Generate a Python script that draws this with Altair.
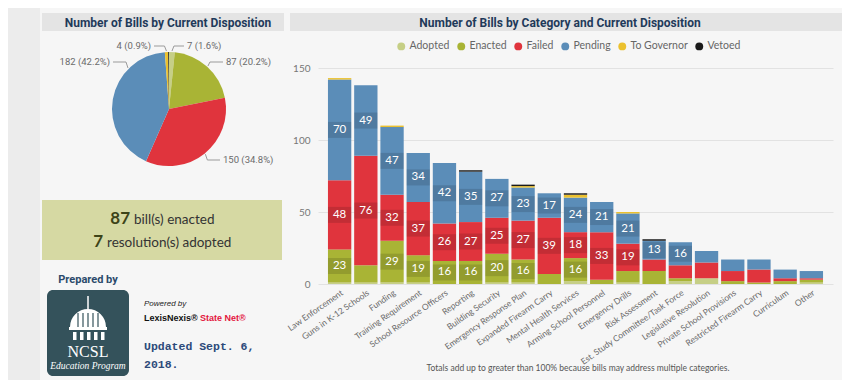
import math
import altair as alt
import pandas as pd

# ---------------- data ----------------
statuses = ["Adopted", "Enacted", "Failed", "Pending", "To Governor", "Vetoed"]
status_colors = ["#c6cf86", "#a9b435", "#e0343d", "#5b8db8", "#ebc12f", "#1a1a1a"]

pie_counts = [7, 87, 150, 182, 4, 1]

categories = [
    "Law Enforcement", "Guns in K-12 Schools", "Funding", "Training Requirement",
    "School Resource Officers", "Reporting", "Building Security",
    "Emergency Response Plan", "Expanded Firearm Carry", "Mental Health Services",
    "Arming School Personnel", "Emergency Drills", "Risk Assessment",
    "Est. Study Committee/Task Force", "Legislative Resolution",
    "Private School Provisions", "Restricted Firearm Carry", "Curriculum", "Other",
]
adopted = [1, 1, 1, 1, 0, 0, 1, 1, 0, 2, 0, 1, 0, 2, 4, 0, 0, 0, 1]
enacted = [23, 12, 29, 19, 16, 16, 20, 16, 7, 16, 3, 8, 9, 2, 0, 2, 1, 2, 2]
failed = [48, 76, 32, 37, 26, 27, 25, 27, 39, 18, 33, 19, 8, 9, 11, 7, 9, 2, 1]
pending = [70, 49, 47, 34, 42, 35, 27, 23, 17, 24, 21, 21, 13, 16, 8, 8, 7, 6, 5]
to_governor = [1, 0, 1, 0, 0, 0, 0, 1, 0, 2, 0, 1, 0, 0, 0, 0, 0, 0, 0]
vetoed = [0, 0, 0, 0, 0, 1, 0, 1, 0, 1, 0, 0, 1, 0, 0, 0, 0, 0, 0]

y_ticks = [0, 50, 100, 150]

title_left = "Number of Bills by Current Disposition"
title_right = "Number of Bills by Category and Current Disposition"
footnote = "Totals add up to greater than 100% because bills may address multiple categories."

# ---------------- layout ----------------
OX, OY = 318, 68          # window position of plot origin
PW, PH = 515, 216         # plot area
TITLE_FONT = "Roboto"
BODY_FONT = "Lato"
NAVY = "#1f3a5a"

series = [adopted, enacted, failed, pending, to_governor, vetoed]
rows = []
for ci, cat in enumerate(categories):
    base = 0
    for si, st in enumerate(statuses):
        v = series[si][ci]
        rows.append({"category": cat, "status": st, "value": v, "idx": si,
                     "mid": base + v / 2})
        base += v
bar_df = pd.DataFrame(rows)
lab_df = bar_df[(bar_df["value"] >= 13)]

pie_df = pd.DataFrame({"status": statuses, "count": pie_counts, "idx": list(range(6))})

color_scale = alt.Scale(domain=statuses, range=status_colors)
legend = alt.Legend(orient="none", legendX=78, legendY=-27, direction="horizontal",
                    title=None, symbolType="circle", symbolSize=62, symbolStrokeWidth=0,
                    labelFont=BODY_FONT, labelFontSize=10.5, labelColor="#666666",
                    labelOffset=3, columnPadding=6)

x_enc = alt.X("category:N", sort=categories,
              scale=alt.Scale(paddingInner=0.11, paddingOuter=0.38),
              axis=alt.Axis(title=None, labelAngle=325, labelFont=BODY_FONT,
                            labelFontSize=8.5, labelColor="#6a6a6a", ticks=False,
                            domain=False, labelPadding=4, labelLimit=200))
y_scale = alt.Scale(domain=[0, 150], nice=False)
y_axis = alt.Axis(title=None, values=y_ticks, grid=True, gridColor="#e2e2e2",
                  domain=False, ticks=False, labelFont=BODY_FONT, labelFontSize=10,
                  labelColor="#777777", labelPadding=8)

bars = alt.Chart(bar_df[bar_df["value"] > 0]).mark_bar().encode(
    x=x_enc,
    y=alt.Y("value:Q", stack="zero", scale=y_scale, axis=y_axis),
    color=alt.Color("status:N", scale=color_scale, legend=legend),
    order=alt.Order("idx:Q", sort="ascending"),
)

BOX = "M-1,-0.69H1V0.69H-1Z"
boxes = alt.Chart(lab_df).mark_point(shape=BOX, filled=True, color="#000000",
                                     opacity=0.13, size=540, strokeWidth=0).encode(
    x=x_enc, y=alt.Y("mid:Q", stack=None, scale=y_scale, axis=y_axis))
labels = alt.Chart(lab_df).mark_text(color="white", font=BODY_FONT, fontSize=11.5,
                                     baseline="middle").encode(
    x=x_enc, y=alt.Y("mid:Q", stack=None, scale=y_scale, axis=y_axis),
    text=alt.Text("value:Q"))

# ---------------- pie ----------------
PCX, PCY, PR = 169, 109, 57
pie = alt.Chart(pie_df).mark_arc(radius=PR).encode(
    theta=alt.Theta("count:Q", stack=True),
    color=alt.Color("status:N", scale=color_scale, legend=legend),
    order=alt.Order("idx:Q", sort="ascending"),
    x=alt.value(PCX - OX), y=alt.value(PCY - OY),
)

one = pd.DataFrame({"k": [0]})


def text(s, x, y, **kw):
    return alt.Chart(one).mark_text(**kw).encode(
        x=alt.value(x - OX), y=alt.value(y - OY), text=alt.value(s))


def rect(x1, y1, x2, y2, **kw):
    return alt.Chart(one).mark_rect(**kw).encode(
        x=alt.value(x1 - OX), x2=alt.value(x2 - OX),
        y=alt.value(y1 - OY), y2=alt.value(y2 - OY))


def rule(x1, y1, x2, y2, **kw):
    return alt.Chart(one).mark_rule(**kw).encode(
        x=alt.value(x1 - OX), x2=alt.value(x2 - OX),
        y=alt.value(y1 - OY), y2=alt.value(y2 - OY))


layers = []
# backgrounds
layers.append(rect(-10, -10, 40, 400, color="#ececec"))
layers.append(rect(-10, 380, 860, 400, color="#e6e6e6"))
layers.append(rect(42, 13, 284, 31, color="#e4e4e4"))
layers.append(rect(290, 13, 860, 31, color="#e4e4e4"))
layers.append(text(title_left, 168, 22.5, font=TITLE_FONT, fontSize=12, fontWeight="bold",
                   color=NAVY, align="center", baseline="middle"))
layers.append(text(title_right, 560, 22.5, font=TITLE_FONT, fontSize=12, fontWeight="bold",
                   color=NAVY, align="center", baseline="middle"))

# pie labels with leader lines
total = sum(pie_counts)
pie_label_pos = {
    "Adopted": (187, 46, "left", None),
    "Enacted": (226, 62, "left", None),
    "Failed": (223, 160, "left", None),
    "Pending": (110, 62, "right", 315.0),
    "To Governor": (151, 46, "right", None),
}
cum = 0
for st, c in zip(statuses, pie_counts):
    mid_deg = (cum + c / 2) / total * 360
    cum += c
    if st not in pie_label_pos:
        continue
    lx, ly, side, override = pie_label_pos[st]
    a = math.radians(override if override is not None else mid_deg)
    px = PCX + (PR + 1) * math.sin(a)
    py = PCY - (PR + 1) * math.cos(a)
    d = 1 if side == "left" else -1
    ex = px + 2 * d
    layers.append(rule(px, py, ex, ly, color="#9a9a9a", strokeWidth=1))
    layers.append(rule(ex, ly, lx - 3 * d, ly, color="#9a9a9a", strokeWidth=1))
    layers.append(text(f"{c} ({c / total * 100:.1f}%)", lx, ly, font=TITLE_FONT, fontSize=9.5,
                       color="#6b6b6b", align=side, baseline="middle"))

# summary box
layers.append(rect(42, 200, 282, 260, color="#d6d9a3"))
layers.append(text(str(pie_counts[1]), 130, 219, font=BODY_FONT, fontSize=17, fontWeight="bold",
                   color="#3d4418", align="right", baseline="middle"))
layers.append(text("bill(s) enacted", 134, 219.5, font=BODY_FONT, fontSize=13.5,
                   color="#333333", align="left", baseline="middle"))
layers.append(text(str(pie_counts[0]), 103, 242, font=BODY_FONT, fontSize=17, fontWeight="bold",
                   color="#3d4418", align="right", baseline="middle"))
layers.append(text("resolution(s) adopted", 107, 242.5, font=BODY_FONT, fontSize=13.5,
                   color="#333333", align="left", baseline="middle"))

# prepared by / logo
layers.append(text("Prepared by", 88, 280, font=TITLE_FONT, fontSize=11, fontWeight="bold",
                   color="#2b4a6b", align="center", baseline="middle"))
layers.append(rect(47, 290, 129, 376, color="#34525b", cornerRadius=6))
layers.append(rule(88, 296, 88, 309, color="white", strokeWidth=1.5))
layers.append(alt.Chart(one).mark_arc(radius=18, color="white").encode(
    theta=alt.value(4.712), theta2=alt.value(7.854),
    x=alt.value(88 - OX), y=alt.value(327 - OY)))
for rx in [78, 83, 88, 93, 98]:
    layers.append(rule(rx, 313, rx, 327, color="#34525b", strokeWidth=1.2))
layers.append(rect(69, 327, 107, 330, color="white"))
for cx in [73, 80, 87, 94, 101]:
    layers.append(rect(cx, 332, cx + 3.5, 340, color="white"))
layers.append(text("NCSL", 88, 352, font="Liberation Serif", fontSize=16, color="white",
                   align="center", baseline="middle"))
layers.append(text("Education Program", 88, 366, font="Liberation Serif", fontSize=9.5,
                   fontStyle="italic", color="white", align="center", baseline="middle"))

layers.append(text("Powered by", 144, 304, font="Liberation Sans", fontSize=8,
                   fontStyle="italic", color="#222222", align="left", baseline="middle"))
layers.append(text("LexisNexis®", 144, 317.5, font="Liberation Sans", fontSize=9,
                   fontWeight="bold", color="#111111", align="left", baseline="middle"))
layers.append(text("State Net®", 200, 317.5, font="Liberation Sans", fontSize=9,
                   fontWeight="bold", color="#e3173e", align="left", baseline="middle"))
layers.append(text("Updated Sept. 6,", 144, 347, font="Liberation Mono", fontSize=11.5,
                   fontWeight="bold", color="#2c4a7a", align="left", baseline="middle"))
layers.append(text("2018.", 144, 365, font="Liberation Mono", fontSize=11.5,
                   fontWeight="bold", color="#2c4a7a", align="left", baseline="middle"))

layers.append(text(footnote, 578, 368, font=BODY_FONT, fontSize=8.5, color="#555555",
                   align="center", baseline="middle"))

chart = alt.layer(bars, boxes, labels, pie, *layers).properties(
    width=PW, height=PH,
    autosize=alt.AutoSizeParams(type="none"),
    padding={"left": OX - 8, "top": OY - 8, "right": 850 - 8 - OX - PW,
             "bottom": 388 - 8 - OY - PH},
).configure(background="#f6f6f6").configure_view(stroke=None)

chart.save("out.html", embed_options={"renderer": "svg", "actions": False})
